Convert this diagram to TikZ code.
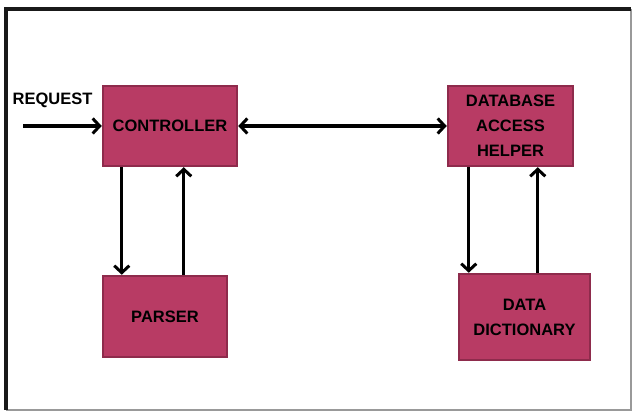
\documentclass[tikz,border=0pt]{standalone}
\usepackage{fontspec}
\setmainfont{Liberation Sans}
\usetikzlibrary{arrows.meta,calc}
\definecolor{boxfill}{HTML}{B83B64}
\definecolor{boxline}{HTML}{8E2B4C}
\begin{document}
\begin{tikzpicture}[x=1pt,y=-1pt,
  blk/.style={draw=boxline,fill=boxfill,line width=2.5pt,inner sep=0pt,align=center,
    font=\fontsize{16.5}{25}\selectfont\bfseries},
  tip/.tip={Straight Barb[length=7pt,width=15pt,line width=3pt]},
  arr/.style={line width=3.2pt,-tip},
  darr/.style={line width=3.2pt,tip-tip}]
\useasboundingbox (0,0) rectangle (632,411);
\fill[white] (0,0) rectangle (632,411);
% frame
\draw[gray!80,line width=1.2pt] (6,410) -- (631,410) -- (631,9);
\draw[black!90,line width=3.5pt] (6,410) -- (6,9) -- (631,9);
% boxes
\node[blk,minimum width=134pt,minimum height=80pt] (ctrl) at (170,126) {CONTROLLER};
\node[blk,minimum width=125pt,minimum height=80pt] (db) at (510.5,126) {DATABASE\\ACCESS\\HELPER};
\node[blk,minimum width=124pt,minimum height=81pt] (parser) at (165,316.5) {PARSER};
\node[blk,minimum width=131pt,minimum height=86pt] (dd) at (524.5,317) {DATA\\DICTIONARY};
% request
\node[font=\fontsize{16.5}{20}\selectfont\bfseries,inner sep=0pt] (reqtxt) at (52.5,100) {REQUEST};
\coordinate (req) at (23,126);
\draw[arr] (req) -- (ctrl.west);
\draw[darr] (ctrl.east) -- (db.west);
% controller <-> parser
\draw[arr] ([xshift=20pt]ctrl.south west) -- ([xshift=20pt]ctrl.south west |- parser.north);
\draw[arr] ([xshift=82pt]ctrl.south west |- parser.north) -- ([xshift=82pt]ctrl.south west);
% db <-> dictionary
\draw[arr] ([xshift=22pt]db.south west) -- ([xshift=22pt]db.south west |- dd.north);
\draw[arr] ([xshift=91pt]db.south west |- dd.north) -- ([xshift=91pt]db.south west);
\end{tikzpicture}
\end{document}
